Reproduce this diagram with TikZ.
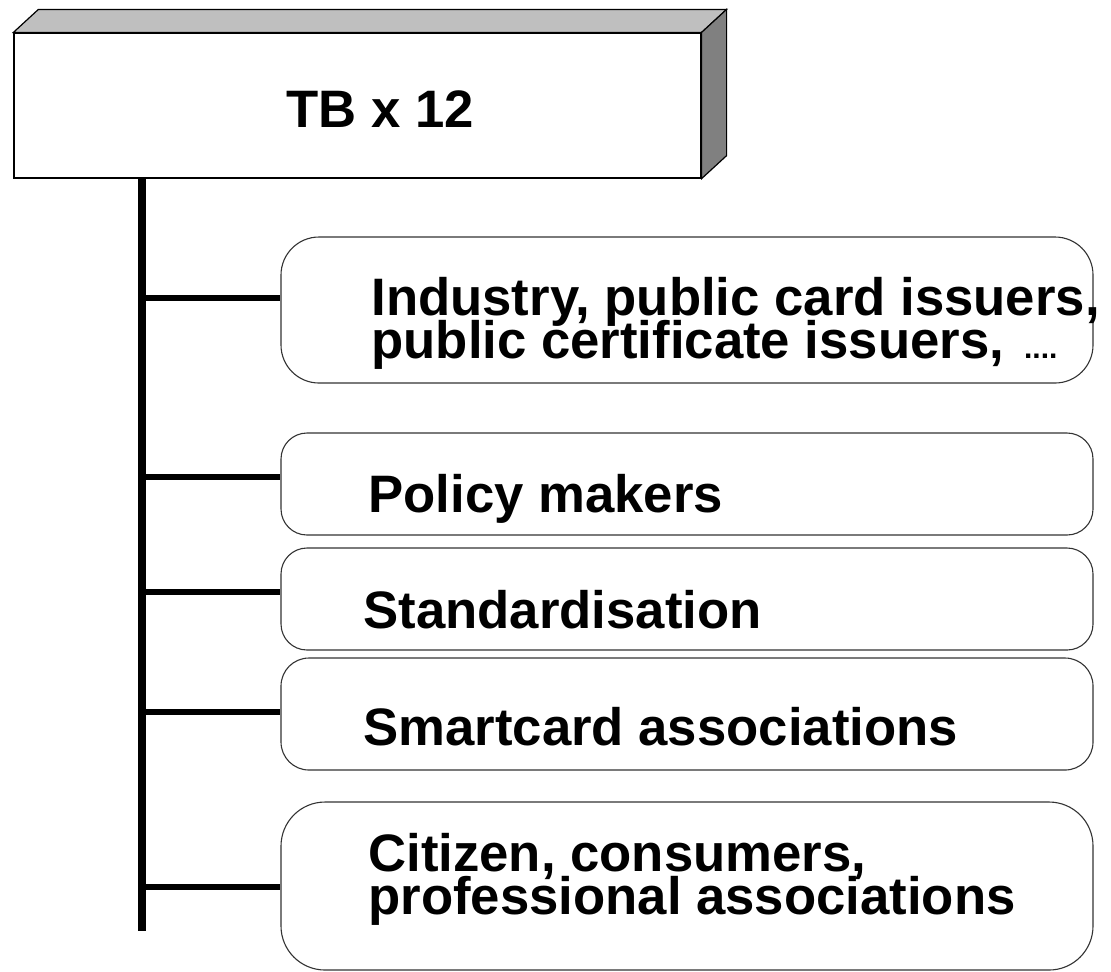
\documentclass[tikz,border=0pt]{standalone}
\usepackage{fontspec}
\setmainfont{Liberation Sans}
\usetikzlibrary{fit}
\begin{document}
\begin{tikzpicture}[x=0.5pt,y=-0.5pt,
  face/.style={draw=black, line width=0.6pt, line join=miter},
  stakeholder/.style={draw=black!80, line width=0.55pt, inner sep=0pt},
  txt/.style={anchor=base west, inner sep=0pt, font=\bfseries\fontsize{26.35}{30}\selectfont},
  trunk/.style={line width=4pt},
  branch/.style={line width=3pt}]
\useasboundingbox (0,0) rectangle (1111,971);

% header block drawn as a 3D slab
\node[fit={(14,33) (701,178)}, inner sep=0pt, face, fill=white] (tb) {};
\filldraw[face, fill=black!25] (tb.north west) -- ([shift={(25,-23)}]tb.north west)
  -- ([shift={(25,-23)}]tb.north east) -- (tb.north east) -- cycle;
\filldraw[face, fill=black!50] (tb.north east) -- ([shift={(25,-23)}]tb.north east)
  -- ([shift={(25,-23)}]tb.south east) -- (tb.south east) -- cycle;
\node[anchor=base, inner sep=0pt, font=\bfseries\fontsize{26.35}{30}\selectfont] (tbtext) at (380,127) {TB x 12};

% stakeholder boxes
\node[fit={(281,237) (1093,383)}, stakeholder, rounded corners=19pt] (b1) {};
\node[fit={(281,433) (1093,535)}, stakeholder, rounded corners=13pt] (b2) {};
\node[fit={(281,548) (1093,650)}, stakeholder, rounded corners=13pt] (b3) {};
\node[fit={(281,658) (1093,770)}, stakeholder, rounded corners=14pt] (b4) {};
\node[fit={(281,802) (1093,970)}, stakeholder, rounded corners=22pt] (b5) {};

% box texts
\node[txt] (t1a) at (371,315) {Industry, public card issuers,};
\node[txt] (t1b) at (371,358) {public certificate issuers,\hspace{10pt}\fontsize{15}{17}\selectfont....};
\node[txt] (t2) at (368,512) {Policy makers};
\node[txt] (t3) at (363,628) {Standardisation};
\node[txt] (t4) at (363,745) {Smartcard associations};
\node[txt] (t5a) at (368,871) {Citizen, consumers,};
\node[txt] (t5b) at (368,914) {professional associations};

% trunk and branches
\coordinate (trunktop) at (142,178);
\coordinate (trunkend) at (142,931);
\draw[trunk] (trunktop) -- (trunkend);
\coordinate (j1) at (142,298);
\coordinate (j2) at (142,477);
\coordinate (j3) at (142,592);
\coordinate (j4) at (142,712);
\coordinate (j5) at (142,887);
\draw[branch] (j1) -- (j1 -| b1.west);
\draw[branch] (j2) -- (j2 -| b2.west);
\draw[branch] (j3) -- (j3 -| b3.west);
\draw[branch] (j4) -- (j4 -| b4.west);
\draw[branch] (j5) -- (j5 -| b5.west);
\end{tikzpicture}
\end{document}
